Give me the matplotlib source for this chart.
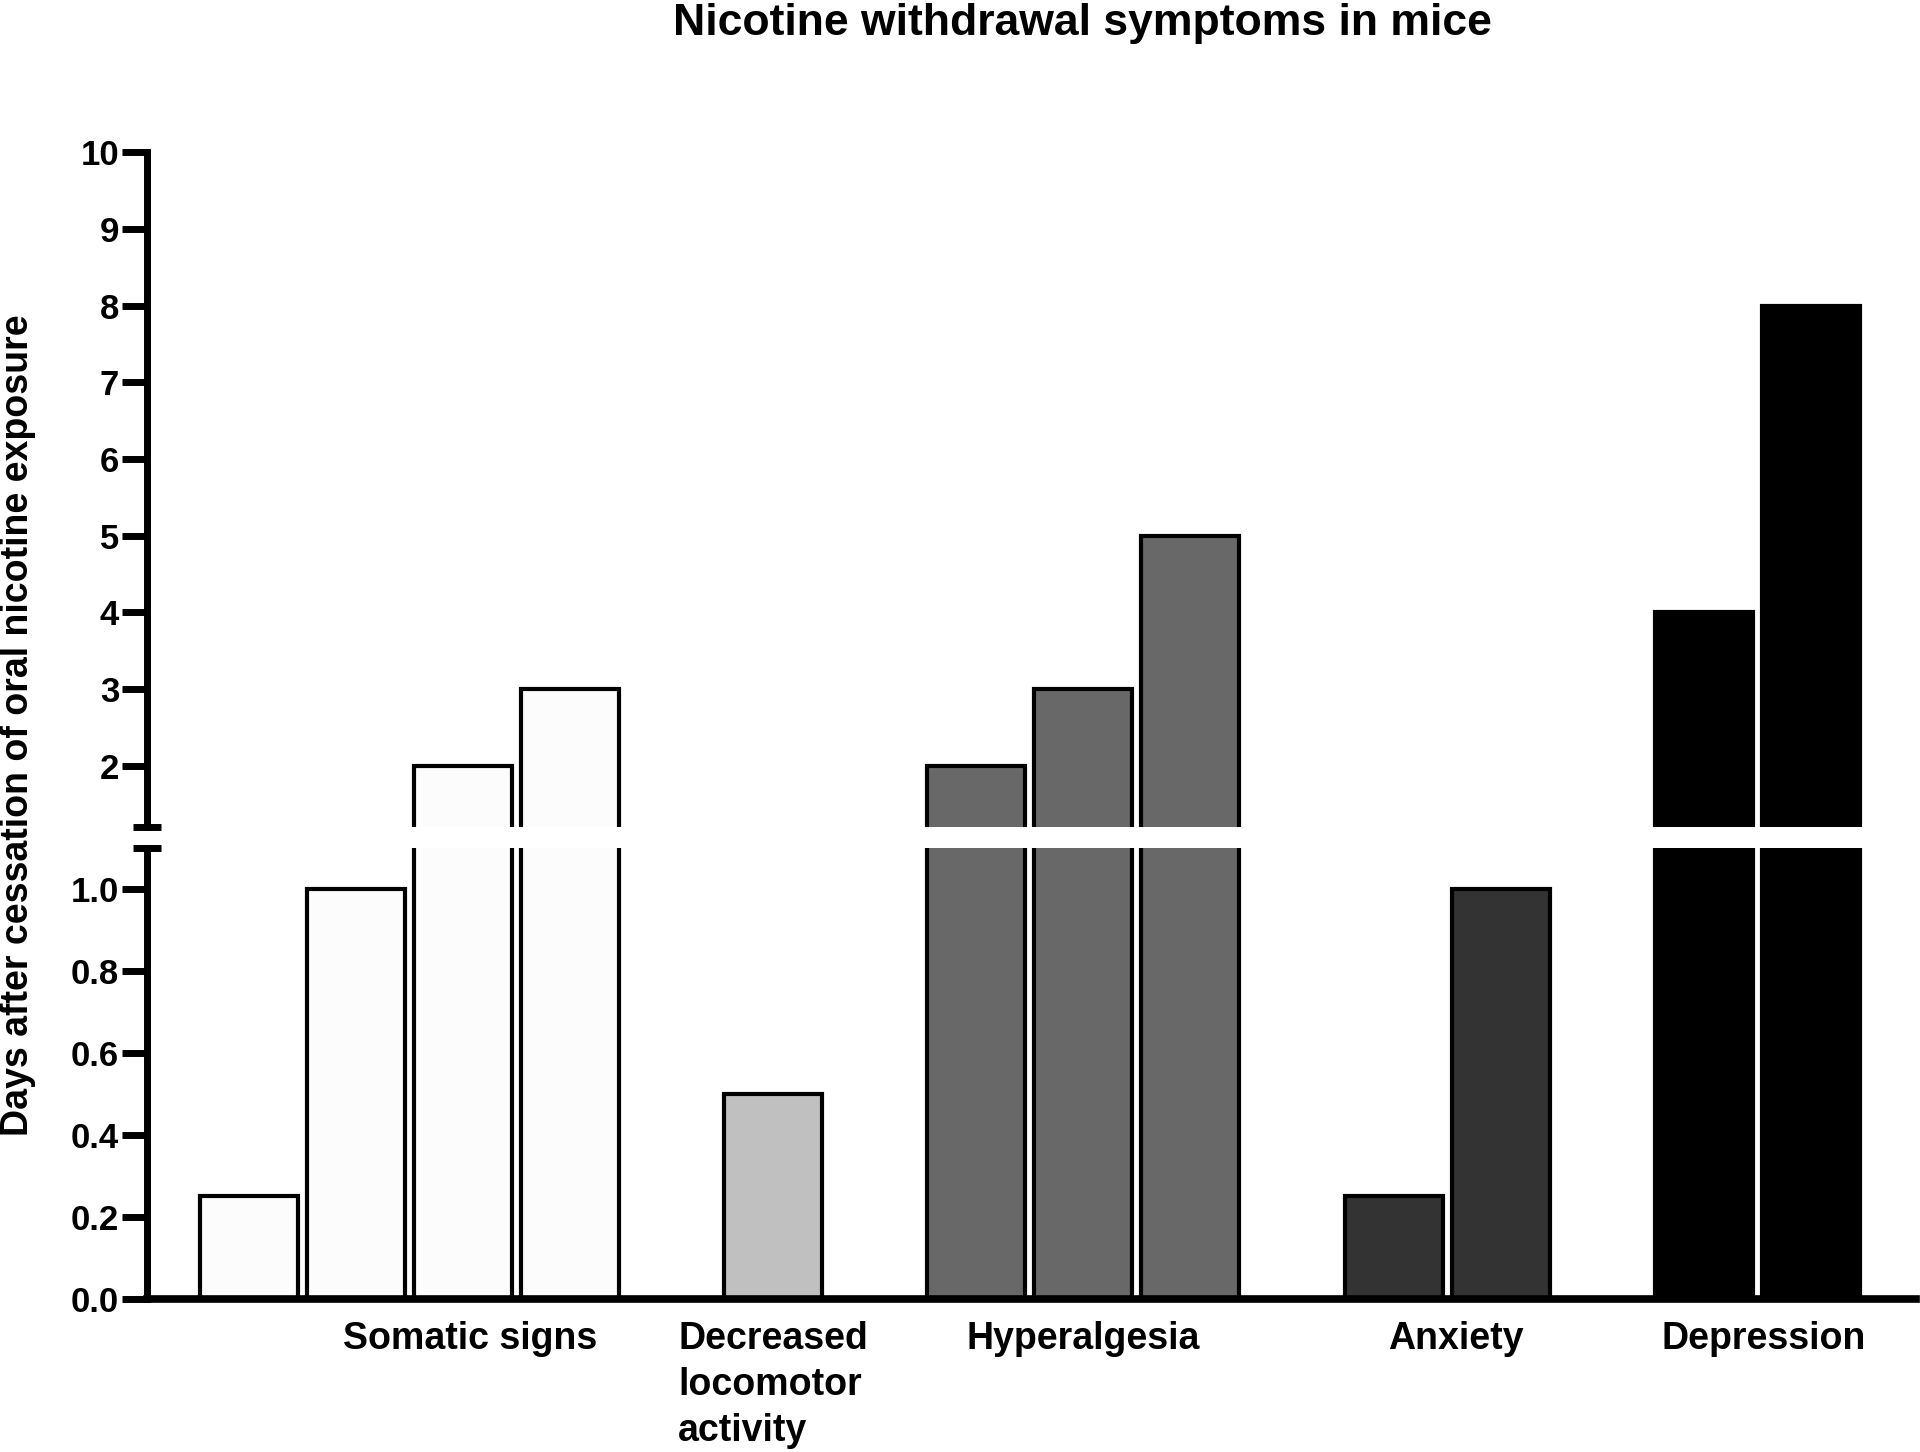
import matplotlib
matplotlib.use("Agg")
import matplotlib.pyplot as plt
from matplotlib.transforms import blended_transform_factory

plt.rcParams["font.family"] = ["Liberation Sans", "DejaVu Sans"]
plt.rcParams["font.weight"] = "bold"

categories = ["Somatic signs", "Decreased\nlocomotor\nactivity", "Hyperalgesia", "Anxiety", "Depression"]
somatic_days = [0.25, 1, 2, 3]
locomotor_days = [0.5]
hyperalgesia_days = [2, 3, 5]
anxiety_days = [0.25, 1]
depression_days = [4, 8]
groups = [somatic_days, locomotor_days, hyperalgesia_days, anxiety_days, depression_days]
group_colors = ["#fcfcfc", "#c0c0c0", "#686868", "#333333", "#000000"]
label_shift = [0.57, 0.0, 0.0, 0.08, 0.06]

lower_ticks = [0.0, 0.2, 0.4, 0.6, 0.8, 1.0]
upper_ticks = [2, 3, 4, 5, 6, 7, 8, 9, 10]

# bar positions: step 1 inside a group, extra gap between groups
group_gap = 0.9
x_pos = []
x = 0.0
for g in groups:
    xs = []
    for v in g:
        xs.append(x)
        x += 1
    x_pos.append(xs)
    x += group_gap

fig = plt.figure(figsize=(19.2, 14.52), dpi=100)
left, right = 147 / 1920, 1916 / 1920
ax_top = fig.add_axes([left, 0.4302, right - left, 0.8953 - 0.4302])
ax_low = fig.add_axes([left, 0.1054, right - left, 0.4160 - 0.1054])

for ax in (ax_top, ax_low):
    for xs, vals, c in zip(x_pos, groups, group_colors):
        ax.bar(xs, vals, width=0.915, color=c, edgecolor="black", linewidth=3)
    ax.set_xlim(-0.95, 15.58)
    ax.spines["top"].set_visible(False)
    ax.spines["right"].set_visible(False)
    ax.spines["left"].set_linewidth(5)
    ax.tick_params(axis="y", length=18, width=5, pad=2, labelsize=25)
    ax.set_xticks([])

ax_top.set_ylim(1.2, 10)
ax_top.set_yticks(upper_ticks)
ax_top.set_yticklabels([str(t) for t in upper_ticks])
ax_top.spines["bottom"].set_visible(False)

ax_low.set_ylim(0, 1.1)
ax_low.set_yticks(lower_ticks)
ax_low.set_yticklabels(["%.1f" % t for t in lower_ticks])
ax_low.spines["bottom"].set_linewidth(5.5)

# axis break caps
ax_top.plot([-0.008, 0.008], [0, 0], transform=ax_top.transAxes, color="black",
            lw=5, clip_on=False, solid_capstyle="butt")
ax_low.plot([-0.008, 0.008], [1, 1], transform=ax_low.transAxes, color="black",
            lw=5, clip_on=False, solid_capstyle="butt")

trans = blended_transform_factory(ax_low.transData, ax_low.transAxes)
for xs, name, dx in zip(x_pos, categories, label_shift):
    cx = (xs[0] + xs[-1]) / 2 + dx
    ax_low.text(cx, -0.048, name, transform=trans, ha="center", va="top",
                fontsize=27, fontweight="bold", multialignment="left",
                linespacing=1.36)

fig.text(1082 / 1920, 0.984, "Nicotine withdrawal symptoms in mice", ha="center",
         va="center", fontsize=32, fontweight="bold")
fig.text(18 / 1920, 0.5007, "Days after cessation of oral nicotine exposure",
         rotation=90, ha="center", va="center", fontsize=27, fontweight="bold")

fig.savefig("out.png", dpi=100)
